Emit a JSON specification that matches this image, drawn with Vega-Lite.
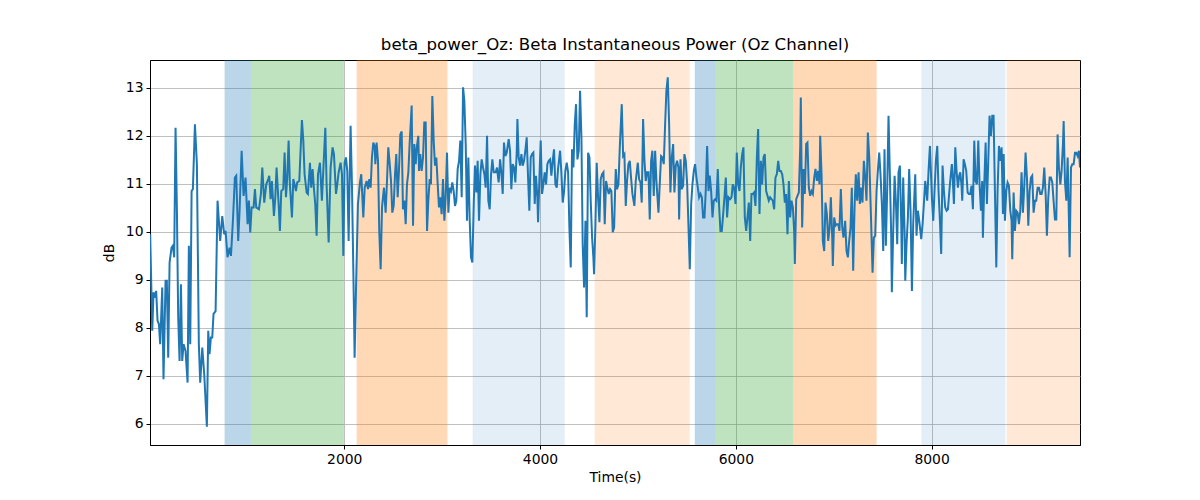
{
"$schema": "https://vega.github.io/schema/vega-lite/v6.json",
"width": 930, "height": 385,
"autosize": {"type": "none"},
"padding": {"left": 150, "top": 60, "right": 120, "bottom": 55},
"background": "white",
"config": {
 "font": "DejaVu Sans",
 "view": {"stroke": "black", "strokeWidth": 1},
 "axis": {"domainColor": "black", "tickColor": "black", "labelColor": "black", "titleColor": "black", "labelFont": "DejaVu Sans", "titleFont": "DejaVu Sans", "labelFontSize": 13.9, "titleFontSize": 13.9, "titleFontWeight": "normal", "tickSize": 4, "labelPadding": 3, "gridColor": "#b0b0b0", "gridWidth": 0.8, "gridOpacity": 1},
 "title": {"font": "DejaVu Sans", "fontSize": 16.6, "fontWeight": "normal", "color": "black", "offset": 6}
},
"title": "beta_power_Oz: Beta Instantaneous Power (Oz Channel)",
"datasets": {
 "spans": [
  {"start": 778, "end": 1046, "phase": "A"},
  {"start": 1046, "end": 1997, "phase": "B"},
  {"start": 2127, "end": 3054, "phase": "C"},
  {"start": 3312, "end": 4252, "phase": "D"},
  {"start": 4559, "end": 5529, "phase": "E"},
  {"start": 5581, "end": 5788, "phase": "A"},
  {"start": 5788, "end": 6586, "phase": "B"},
  {"start": 6586, "end": 7438, "phase": "C"},
  {"start": 7896, "end": 8754, "phase": "D"},
  {"start": 8767, "end": 9516, "phase": "E"}
 ],
 "beta": [
{"t":18,"v":9.95},{"t":39,"v":7.94},{"t":52,"v":8.74},{"t":66,"v":8.63},{"t":79,"v":8.77},{"t":93,"v":8.15},{"t":107,"v":8.08},{"t":120,"v":7.66},{"t":141,"v":8.84},{"t":154,"v":6.93},{"t":175,"v":8.98},{"t":188,"v":8.98},{"t":202,"v":7.38},{"t":216,"v":9.36},{"t":236,"v":9.67},{"t":250,"v":9.71},{"t":263,"v":9.47},{"t":277,"v":12.17},{"t":291,"v":10.44},{"t":304,"v":8.22},{"t":318,"v":7.31},{"t":332,"v":8.91},{"t":345,"v":7.31},{"t":359,"v":7.66},{"t":379,"v":7.52},{"t":400,"v":6.86},{"t":413,"v":9.71},{"t":427,"v":7.66},{"t":441,"v":10.85},{"t":454,"v":10.89},{"t":475,"v":12.24},{"t":495,"v":11.41},{"t":515,"v":7.66},{"t":529,"v":6.86},{"t":550,"v":7.59},{"t":570,"v":7.03},{"t":597,"v":5.94},{"t":611,"v":7.94},{"t":624,"v":7.45},{"t":638,"v":7.80},{"t":652,"v":7.80},{"t":665,"v":8.29},{"t":686,"v":8.35},{"t":706,"v":10.65},{"t":733,"v":9.81},{"t":754,"v":10.33},{"t":774,"v":9.95},{"t":788,"v":10.02},{"t":808,"v":9.47},{"t":829,"v":9.67},{"t":843,"v":9.50},{"t":863,"v":10.23},{"t":883,"v":11.13},{"t":897,"v":11.17},{"t":917,"v":9.81},{"t":931,"v":10.44},{"t":952,"v":11.69},{"t":972,"v":10.75},{"t":992,"v":11.13},{"t":1013,"v":10.16},{"t":1026,"v":10.65},{"t":1040,"v":9.99},{"t":1054,"v":10.51},{"t":1074,"v":10.51},{"t":1088,"v":10.89},{"t":1101,"v":10.51},{"t":1129,"v":10.47},{"t":1149,"v":10.79},{"t":1163,"v":11.34},{"t":1183,"v":10.61},{"t":1204,"v":10.99},{"t":1224,"v":11.10},
{"t":1234,"v":11.17},{"t":1248,"v":10.68},{"t":1261,"v":11.06},{"t":1282,"v":10.33},{"t":1296,"v":10.72},{"t":1309,"v":11.34},{"t":1330,"v":10.58},{"t":1343,"v":10.02},{"t":1357,"v":10.85},{"t":1377,"v":10.89},{"t":1391,"v":11.65},{"t":1405,"v":10.72},{"t":1418,"v":11.13},{"t":1432,"v":11.90},{"t":1445,"v":10.99},{"t":1466,"v":10.30},{"t":1480,"v":11.10},{"t":1493,"v":10.99},{"t":1507,"v":10.85},{"t":1520,"v":11.03},{"t":1541,"v":11.06},{"t":1554,"v":11.69},{"t":1568,"v":12.33},{"t":1582,"v":11.90},{"t":1595,"v":11.20},{"t":1616,"v":10.82},{"t":1629,"v":10.79},{"t":1650,"v":11.44},{"t":1663,"v":10.92},{"t":1677,"v":11.31},{"t":1691,"v":10.89},{"t":1704,"v":10.58},{"t":1718,"v":9.92},{"t":1732,"v":11.20},{"t":1752,"v":11.44},{"t":1772,"v":10.65},{"t":1786,"v":11.27},{"t":1807,"v":12.17},{"t":1820,"v":10.99},{"t":1841,"v":9.78},{"t":1861,"v":11.34},{"t":1881,"v":11.76},{"t":1895,"v":11.62},{"t":1916,"v":10.79},{"t":1929,"v":10.99},{"t":1943,"v":11.24},{"t":1963,"v":11.44},{"t":1977,"v":11.20},{"t":1991,"v":9.50},{"t":2004,"v":11.44},{"t":2018,"v":11.55},{"t":2031,"v":11.27},{"t":2045,"v":9.81},{"t":2065,"v":12.21},{"t":2079,"v":10.99},{"t":2100,"v":8.29},{"t":2106,"v":7.38},{"t":2120,"v":8.77},{"t":2140,"v":10.58},{"t":2161,"v":11.03},{"t":2174,"v":11.20},{"t":2195,"v":10.30},{"t":2209,"v":10.92},{"t":2229,"v":11.06},{"t":2243,"v":10.89},{"t":2256,"v":11.10},{"t":2270,"v":10.92},{"t":2283,"v":11.55},{"t":2297,"v":11.86},{"t":2311,"v":11.79},{"t":2318,"v":11.41},{"t":2331,"v":11.86},{"t":2345,"v":11.48},{"t":2358,"v":10.02},{"t":2372,"v":9.22},{"t":2386,"v":10.51},{"t":2406,"v":10.92},
{"t":2423,"v":10.40},{"t":2437,"v":11.06},{"t":2450,"v":11.76},{"t":2464,"v":11.44},{"t":2478,"v":11.06},{"t":2491,"v":10.40},{"t":2505,"v":10.54},{"t":2519,"v":11.20},{"t":2532,"v":11.62},{"t":2546,"v":10.72},{"t":2559,"v":11.27},{"t":2573,"v":12.03},{"t":2587,"v":12.09},{"t":2600,"v":10.47},{"t":2614,"v":10.65},{"t":2628,"v":10.16},{"t":2641,"v":10.99},{"t":2655,"v":11.24},{"t":2668,"v":11.83},{"t":2689,"v":12.63},{"t":2703,"v":10.13},{"t":2716,"v":11.83},{"t":2730,"v":11.41},{"t":2743,"v":11.79},{"t":2757,"v":12.00},{"t":2764,"v":11.27},{"t":2777,"v":11.62},{"t":2791,"v":11.27},{"t":2805,"v":11.55},{"t":2818,"v":12.28},{"t":2832,"v":12.28},{"t":2846,"v":10.02},{"t":2859,"v":10.65},{"t":2873,"v":11.10},{"t":2886,"v":10.99},{"t":2900,"v":12.83},{"t":2914,"v":11.90},{"t":2927,"v":11.38},{"t":2941,"v":11.55},{"t":2955,"v":10.99},{"t":2968,"v":10.51},{"t":2982,"v":10.72},{"t":2995,"v":10.37},{"t":3009,"v":11.10},{"t":3023,"v":10.23},{"t":3036,"v":10.72},{"t":3050,"v":11.65},{"t":3064,"v":10.40},{"t":3077,"v":10.92},{"t":3091,"v":10.85},{"t":3104,"v":11.03},{"t":3118,"v":10.85},{"t":3132,"v":10.54},{"t":3145,"v":10.65},{"t":3159,"v":11.31},{"t":3173,"v":11.48},{"t":3186,"v":11.90},{"t":3200,"v":10.72},{"t":3214,"v":13.01},{"t":3227,"v":12.73},{"t":3241,"v":11.83},{"t":3254,"v":10.23},{"t":3268,"v":11.55},{"t":3282,"v":10.23},{"t":3295,"v":9.47},{"t":3309,"v":9.36},{"t":3323,"v":10.58},{"t":3336,"v":11.38},{"t":3350,"v":10.82},{"t":3363,"v":11.48},{"t":3377,"v":10.23},{"t":3391,"v":11.20},{"t":3404,"v":11.51},{"t":3418,"v":11.34},{"t":3432,"v":11.20},{"t":3445,"v":10.92},{"t":3459,"v":12.00},{"t":3472,"v":10.65},{"t":3486,"v":10.47},{"t":3500,"v":11.20},{"t":3513,"v":11.51},{"t":3527,"v":11.24},{"t":3547,"v":11.24},{"t":3561,"v":11.34},{"t":3575,"v":11.06},
{"t":3578,"v":11.03},{"t":3592,"v":11.51},{"t":3605,"v":11.24},{"t":3619,"v":10.79},{"t":3632,"v":11.86},{"t":3646,"v":11.58},{"t":3660,"v":11.65},{"t":3680,"v":11.93},{"t":3694,"v":11.69},{"t":3707,"v":10.89},{"t":3721,"v":11.41},{"t":3735,"v":11.34},{"t":3748,"v":11.03},{"t":3762,"v":11.65},{"t":3769,"v":12.35},{"t":3782,"v":11.55},{"t":3796,"v":11.38},{"t":3810,"v":11.62},{"t":3823,"v":11.38},{"t":3837,"v":11.48},{"t":3850,"v":11.69},{"t":3864,"v":11.97},{"t":3878,"v":11.13},{"t":3891,"v":10.44},{"t":3905,"v":11.55},{"t":3919,"v":11.62},{"t":3932,"v":11.65},{"t":3946,"v":10.58},{"t":3959,"v":11.17},{"t":3973,"v":10.72},{"t":3980,"v":10.20},{"t":3994,"v":11.13},{"t":4007,"v":11.90},{"t":4021,"v":10.79},{"t":4034,"v":10.99},{"t":4048,"v":11.24},{"t":4062,"v":10.99},{"t":4075,"v":11.41},{"t":4089,"v":11.48},{"t":4103,"v":11.51},{"t":4116,"v":11.17},{"t":4130,"v":11.48},{"t":4143,"v":11.72},{"t":4157,"v":10.99},{"t":4171,"v":10.92},{"t":4184,"v":11.31},{"t":4205,"v":11.69},{"t":4218,"v":11.24},{"t":4232,"v":10.61},{"t":4246,"v":10.85},{"t":4259,"v":11.27},{"t":4273,"v":11.44},{"t":4287,"v":11.24},{"t":4300,"v":10.09},{"t":4314,"v":9.26},{"t":4327,"v":11.72},{"t":4341,"v":11.34},{"t":4355,"v":12.24},{"t":4368,"v":12.66},{"t":4382,"v":11.51},{"t":4396,"v":11.69},{"t":4409,"v":12.94},{"t":4423,"v":11.97},{"t":4436,"v":9.74},{"t":4450,"v":8.84},{"t":4464,"v":10.23},{"t":4477,"v":8.22},{"t":4491,"v":11.65},{"t":4505,"v":11.55},{"t":4518,"v":10.65},{"t":4532,"v":9.88},{"t":4545,"v":9.47},{"t":4552,"v":9.12},{"t":4566,"v":10.16},{"t":4579,"v":11.44},{"t":4593,"v":10.72},{"t":4607,"v":10.20},{"t":4620,"v":11.10},{"t":4634,"v":11.20},{"t":4648,"v":11.24},{"t":4661,"v":10.16},{"t":4675,"v":11.06},{"t":4688,"v":10.92},{"t":4702,"v":10.79},{"t":4716,"v":10.89},{"t":4729,"v":10.85},{"t":4743,"v":9.99},{"t":4757,"v":10.09},
{"t":4767,"v":10.85},{"t":4774,"v":11.31},{"t":4787,"v":10.89},{"t":4801,"v":10.99},{"t":4815,"v":11.76},{"t":4835,"v":12.66},{"t":4849,"v":11.58},{"t":4862,"v":11.62},{"t":4876,"v":10.54},{"t":4889,"v":11.06},{"t":4903,"v":11.41},{"t":4917,"v":11.48},{"t":4930,"v":11.13},{"t":4944,"v":10.79},{"t":4964,"v":10.54},{"t":4978,"v":11.06},{"t":4999,"v":11.44},{"t":5012,"v":11.10},{"t":5026,"v":11.03},{"t":5039,"v":10.61},{"t":5053,"v":12.35},{"t":5067,"v":11.48},{"t":5080,"v":11.06},{"t":5094,"v":11.24},{"t":5108,"v":11.24},{"t":5121,"v":10.26},{"t":5135,"v":11.48},{"t":5148,"v":11.69},{"t":5162,"v":10.75},{"t":5176,"v":11.69},{"t":5189,"v":11.06},{"t":5210,"v":10.40},{"t":5223,"v":10.99},{"t":5237,"v":11.58},{"t":5251,"v":11.55},{"t":5264,"v":11.41},{"t":5278,"v":12.24},{"t":5291,"v":12.94},{"t":5305,"v":13.22},{"t":5319,"v":12.24},{"t":5332,"v":10.82},{"t":5346,"v":11.55},{"t":5360,"v":11.83},{"t":5373,"v":10.82},{"t":5387,"v":11.38},{"t":5400,"v":11.48},{"t":5414,"v":11.34},{"t":5421,"v":10.26},{"t":5435,"v":11.51},{"t":5448,"v":10.89},{"t":5462,"v":10.96},{"t":5475,"v":11.62},{"t":5489,"v":11.48},{"t":5503,"v":10.99},{"t":5516,"v":10.16},{"t":5530,"v":9.22},{"t":5544,"v":10.58},{"t":5557,"v":10.99},{"t":5571,"v":11.27},{"t":5584,"v":11.41},{"t":5598,"v":11.13},{"t":5612,"v":10.92},{"t":5625,"v":10.72},{"t":5639,"v":10.79},{"t":5653,"v":10.72},{"t":5666,"v":10.30},{"t":5680,"v":10.30},{"t":5693,"v":10.85},{"t":5707,"v":11.79},{"t":5721,"v":10.85},{"t":5734,"v":11.17},{"t":5748,"v":10.85},{"t":5762,"v":10.30},{"t":5775,"v":10.65},{"t":5789,"v":10.68},{"t":5802,"v":10.65},{"t":5816,"v":11.31},{"t":5830,"v":10.51},{"t":5843,"v":10.02},{"t":5857,"v":10.02},{"t":5871,"v":10.37},{"t":5884,"v":10.72},{"t":5898,"v":11.13},{"t":5911,"v":10.30},{"t":5925,"v":10.72},
{"t":5942,"v":10.68},{"t":5956,"v":10.72},{"t":5969,"v":10.99},{"t":5983,"v":10.92},{"t":5997,"v":10.58},{"t":6010,"v":11.65},{"t":6024,"v":10.99},{"t":6038,"v":10.85},{"t":6051,"v":11.34},{"t":6065,"v":11.62},{"t":6078,"v":11.76},{"t":6092,"v":10.30},{"t":6106,"v":10.02},{"t":6119,"v":10.30},{"t":6133,"v":10.61},{"t":6147,"v":9.81},{"t":6160,"v":10.79},{"t":6174,"v":10.79},{"t":6187,"v":10.82},{"t":6201,"v":10.54},{"t":6215,"v":11.55},{"t":6228,"v":12.14},{"t":6242,"v":10.37},{"t":6256,"v":11.48},{"t":6269,"v":10.99},{"t":6283,"v":11.55},{"t":6296,"v":11.62},{"t":6310,"v":10.85},{"t":6324,"v":10.75},{"t":6337,"v":10.65},{"t":6351,"v":10.72},{"t":6365,"v":10.68},{"t":6378,"v":10.65},{"t":6392,"v":10.47},{"t":6405,"v":11.13},{"t":6419,"v":11.20},{"t":6433,"v":11.48},{"t":6446,"v":11.27},{"t":6460,"v":11.27},{"t":6474,"v":11.20},{"t":6487,"v":10.99},{"t":6501,"v":10.61},{"t":6514,"v":10.79},{"t":6528,"v":9.95},{"t":6542,"v":11.06},{"t":6555,"v":10.30},{"t":6569,"v":10.65},{"t":6583,"v":10.51},{"t":6596,"v":10.02},{"t":6603,"v":9.33},{"t":6617,"v":10.68},{"t":6630,"v":10.75},{"t":6644,"v":10.82},{"t":6658,"v":11.76},{"t":6664,"v":12.80},{"t":6678,"v":10.09},{"t":6692,"v":11.31},{"t":6705,"v":10.79},{"t":6719,"v":11.83},{"t":6732,"v":11.86},{"t":6746,"v":10.92},{"t":6760,"v":10.75},{"t":6773,"v":10.85},{"t":6787,"v":10.79},{"t":6801,"v":11.13},{"t":6814,"v":11.31},{"t":6828,"v":11.06},{"t":6841,"v":11.27},{"t":6855,"v":10.99},{"t":6862,"v":12.00},{"t":6876,"v":11.20},{"t":6889,"v":9.81},{"t":6903,"v":9.60},{"t":6916,"v":10.61},{"t":6930,"v":10.37},{"t":6944,"v":9.81},{"t":6957,"v":10.06},{"t":6971,"v":10.72},{"t":6985,"v":9.88},{"t":6991,"v":9.29},{"t":7005,"v":10.30},{"t":7019,"v":10.13},{"t":7032,"v":10.16},{"t":7046,"v":10.16},{"t":7059,"v":10.02},{"t":7073,"v":10.89},{"t":7087,"v":10.09},{"t":7100,"v":9.88},
{"t":7117,"v":10.23},{"t":7131,"v":9.60},{"t":7145,"v":9.47},{"t":7158,"v":9.81},{"t":7172,"v":10.09},{"t":7185,"v":10.92},{"t":7199,"v":9.19},{"t":7213,"v":10.51},{"t":7226,"v":11.20},{"t":7240,"v":10.65},{"t":7254,"v":11.24},{"t":7267,"v":10.58},{"t":7281,"v":10.92},{"t":7294,"v":10.61},{"t":7308,"v":11.48},{"t":7322,"v":11.13},{"t":7335,"v":10.65},{"t":7349,"v":12.07},{"t":7363,"v":11.55},{"t":7383,"v":10.16},{"t":7397,"v":9.15},{"t":7410,"v":9.88},{"t":7424,"v":9.92},{"t":7438,"v":10.85},{"t":7451,"v":11.27},{"t":7465,"v":11.65},{"t":7478,"v":11.20},{"t":7492,"v":10.58},{"t":7506,"v":9.60},{"t":7519,"v":11.72},{"t":7533,"v":9.71},{"t":7547,"v":10.92},{"t":7560,"v":12.42},{"t":7574,"v":11.17},{"t":7587,"v":9.95},{"t":7594,"v":8.74},{"t":7608,"v":10.02},{"t":7622,"v":11.17},{"t":7635,"v":10.65},{"t":7649,"v":9.74},{"t":7662,"v":11.24},{"t":7676,"v":11.38},{"t":7690,"v":10.16},{"t":7696,"v":9.33},{"t":7710,"v":11.13},{"t":7724,"v":10.02},{"t":7731,"v":8.98},{"t":7744,"v":9.74},{"t":7758,"v":10.30},{"t":7771,"v":11.31},{"t":7785,"v":10.44},{"t":7799,"v":8.77},{"t":7812,"v":10.16},{"t":7833,"v":11.20},{"t":7846,"v":9.92},{"t":7860,"v":10.44},{"t":7874,"v":10.23},{"t":7894,"v":9.85},{"t":7908,"v":10.16},{"t":7921,"v":10.58},{"t":7935,"v":11.06},{"t":7955,"v":10.65},{"t":7969,"v":11.27},{"t":7983,"v":11.79},{"t":8003,"v":10.72},{"t":8017,"v":10.23},{"t":8030,"v":10.85},{"t":8044,"v":11.48},{"t":8058,"v":11.79},{"t":8071,"v":10.85},{"t":8085,"v":10.23},{"t":8098,"v":9.54},{"t":8112,"v":11.38},{"t":8126,"v":10.85},{"t":8139,"v":10.51},{"t":8153,"v":10.44},{"t":8167,"v":10.47},{"t":8187,"v":10.99},{"t":8207,"v":11.41},{"t":8214,"v":11.20},{"t":8228,"v":10.58},{"t":8242,"v":11.76},{"t":8255,"v":11.27},{"t":8269,"v":10.92},{"t":8282,"v":11.17},
{"t":8293,"v":11.24},{"t":8306,"v":10.96},{"t":8313,"v":10.65},{"t":8327,"v":11.51},{"t":8340,"v":11.41},{"t":8354,"v":11.27},{"t":8368,"v":10.82},{"t":8381,"v":10.79},{"t":8395,"v":10.79},{"t":8408,"v":10.96},{"t":8422,"v":10.47},{"t":8436,"v":11.90},{"t":8449,"v":11.06},{"t":8463,"v":10.99},{"t":8477,"v":11.90},{"t":8490,"v":10.99},{"t":8504,"v":10.44},{"t":8517,"v":11.06},{"t":8524,"v":9.88},{"t":8538,"v":10.99},{"t":8552,"v":11.86},{"t":8565,"v":10.58},{"t":8579,"v":11.48},{"t":8592,"v":12.42},{"t":8606,"v":12.00},{"t":8620,"v":12.42},{"t":8633,"v":12.42},{"t":8647,"v":10.85},{"t":8661,"v":9.26},{"t":8674,"v":10.85},{"t":8688,"v":11.79},{"t":8701,"v":11.48},{"t":8715,"v":11.76},{"t":8729,"v":10.37},{"t":8736,"v":11.62},{"t":8749,"v":10.23},{"t":8763,"v":10.85},{"t":8776,"v":11.03},{"t":8790,"v":10.96},{"t":8804,"v":10.44},{"t":8817,"v":10.23},{"t":8824,"v":9.43},{"t":8838,"v":10.82},{"t":8851,"v":10.02},{"t":8865,"v":10.44},{"t":8879,"v":10.40},{"t":8892,"v":10.16},{"t":8906,"v":10.44},{"t":8919,"v":11.24},{"t":8933,"v":10.40},{"t":8947,"v":10.96},{"t":8960,"v":11.65},{"t":8974,"v":11.13},{"t":8988,"v":10.13},{"t":9001,"v":10.85},{"t":9015,"v":11.13},{"t":9028,"v":11.17},{"t":9042,"v":10.40},{"t":9056,"v":10.65},{"t":9069,"v":10.65},{"t":9083,"v":10.92},{"t":9097,"v":10.92},{"t":9110,"v":10.79},{"t":9124,"v":10.79},{"t":9137,"v":10.92},{"t":9151,"v":11.34},{"t":9165,"v":10.79},{"t":9178,"v":9.92},{"t":9192,"v":10.72},{"t":9206,"v":11.13},{"t":9219,"v":11.13},{"t":9233,"v":11.03},{"t":9246,"v":10.65},{"t":9260,"v":10.26},{"t":9274,"v":10.26},{"t":9287,"v":12.03},{"t":9301,"v":11.34},{"t":9315,"v":10.99},{"t":9328,"v":11.27},{"t":9342,"v":11.83},{"t":9349,"v":12.31},{"t":9362,"v":11.06},{"t":9376,"v":10.65},{"t":9390,"v":11.55},{"t":9403,"v":10.23},{"t":9410,"v":9.47},{"t":9424,"v":11.34},{"t":9437,"v":11.41},{"t":9451,"v":11.41},{"t":9465,"v":11.65},{"t":9478,"v":11.65},{"t":9492,"v":11.58},{"t":9505,"v":11.69},{"t":9516,"v":11.34}
 ]
},
"layer": [
 {
  "data": {"name": "spans"},
  "mark": {"type": "rect"},
  "encoding": {
   "x": {"field": "start", "type": "quantitative", "title": "Time(s)",
         "scale": {"domain": [16, 9516], "nice": false, "zero": false},
         "axis": {"values": [2000, 4000, 6000, 8000], "format": "d", "grid": true, "titlePadding": 5}},
   "x2": {"field": "end"},
   "color": {"field": "phase", "type": "nominal", "legend": null,
             "scale": {"domain": ["A", "B", "C", "D", "E"],
                       "range": ["rgba(31,119,180,0.3)", "rgba(44,160,44,0.3)", "rgba(255,127,14,0.3)", "rgba(31,119,180,0.12)", "rgba(255,127,14,0.17)"]}}
  }
 },
 {
  "data": {"name": "beta"},
  "mark": {"type": "line", "color": "#1f77b4", "strokeWidth": 2, "clip": true},
  "encoding": {
   "x": {"field": "t", "type": "quantitative", "title": "Time(s)"},
   "y": {"field": "v", "type": "quantitative", "title": "dB",
         "scale": {"domain": [5.56, 13.58], "nice": false, "zero": false},
         "axis": {"values": [6, 7, 8, 9, 10, 11, 12, 13], "format": "d", "grid": true, "titlePadding": 9}}
  }
 }
]
}
